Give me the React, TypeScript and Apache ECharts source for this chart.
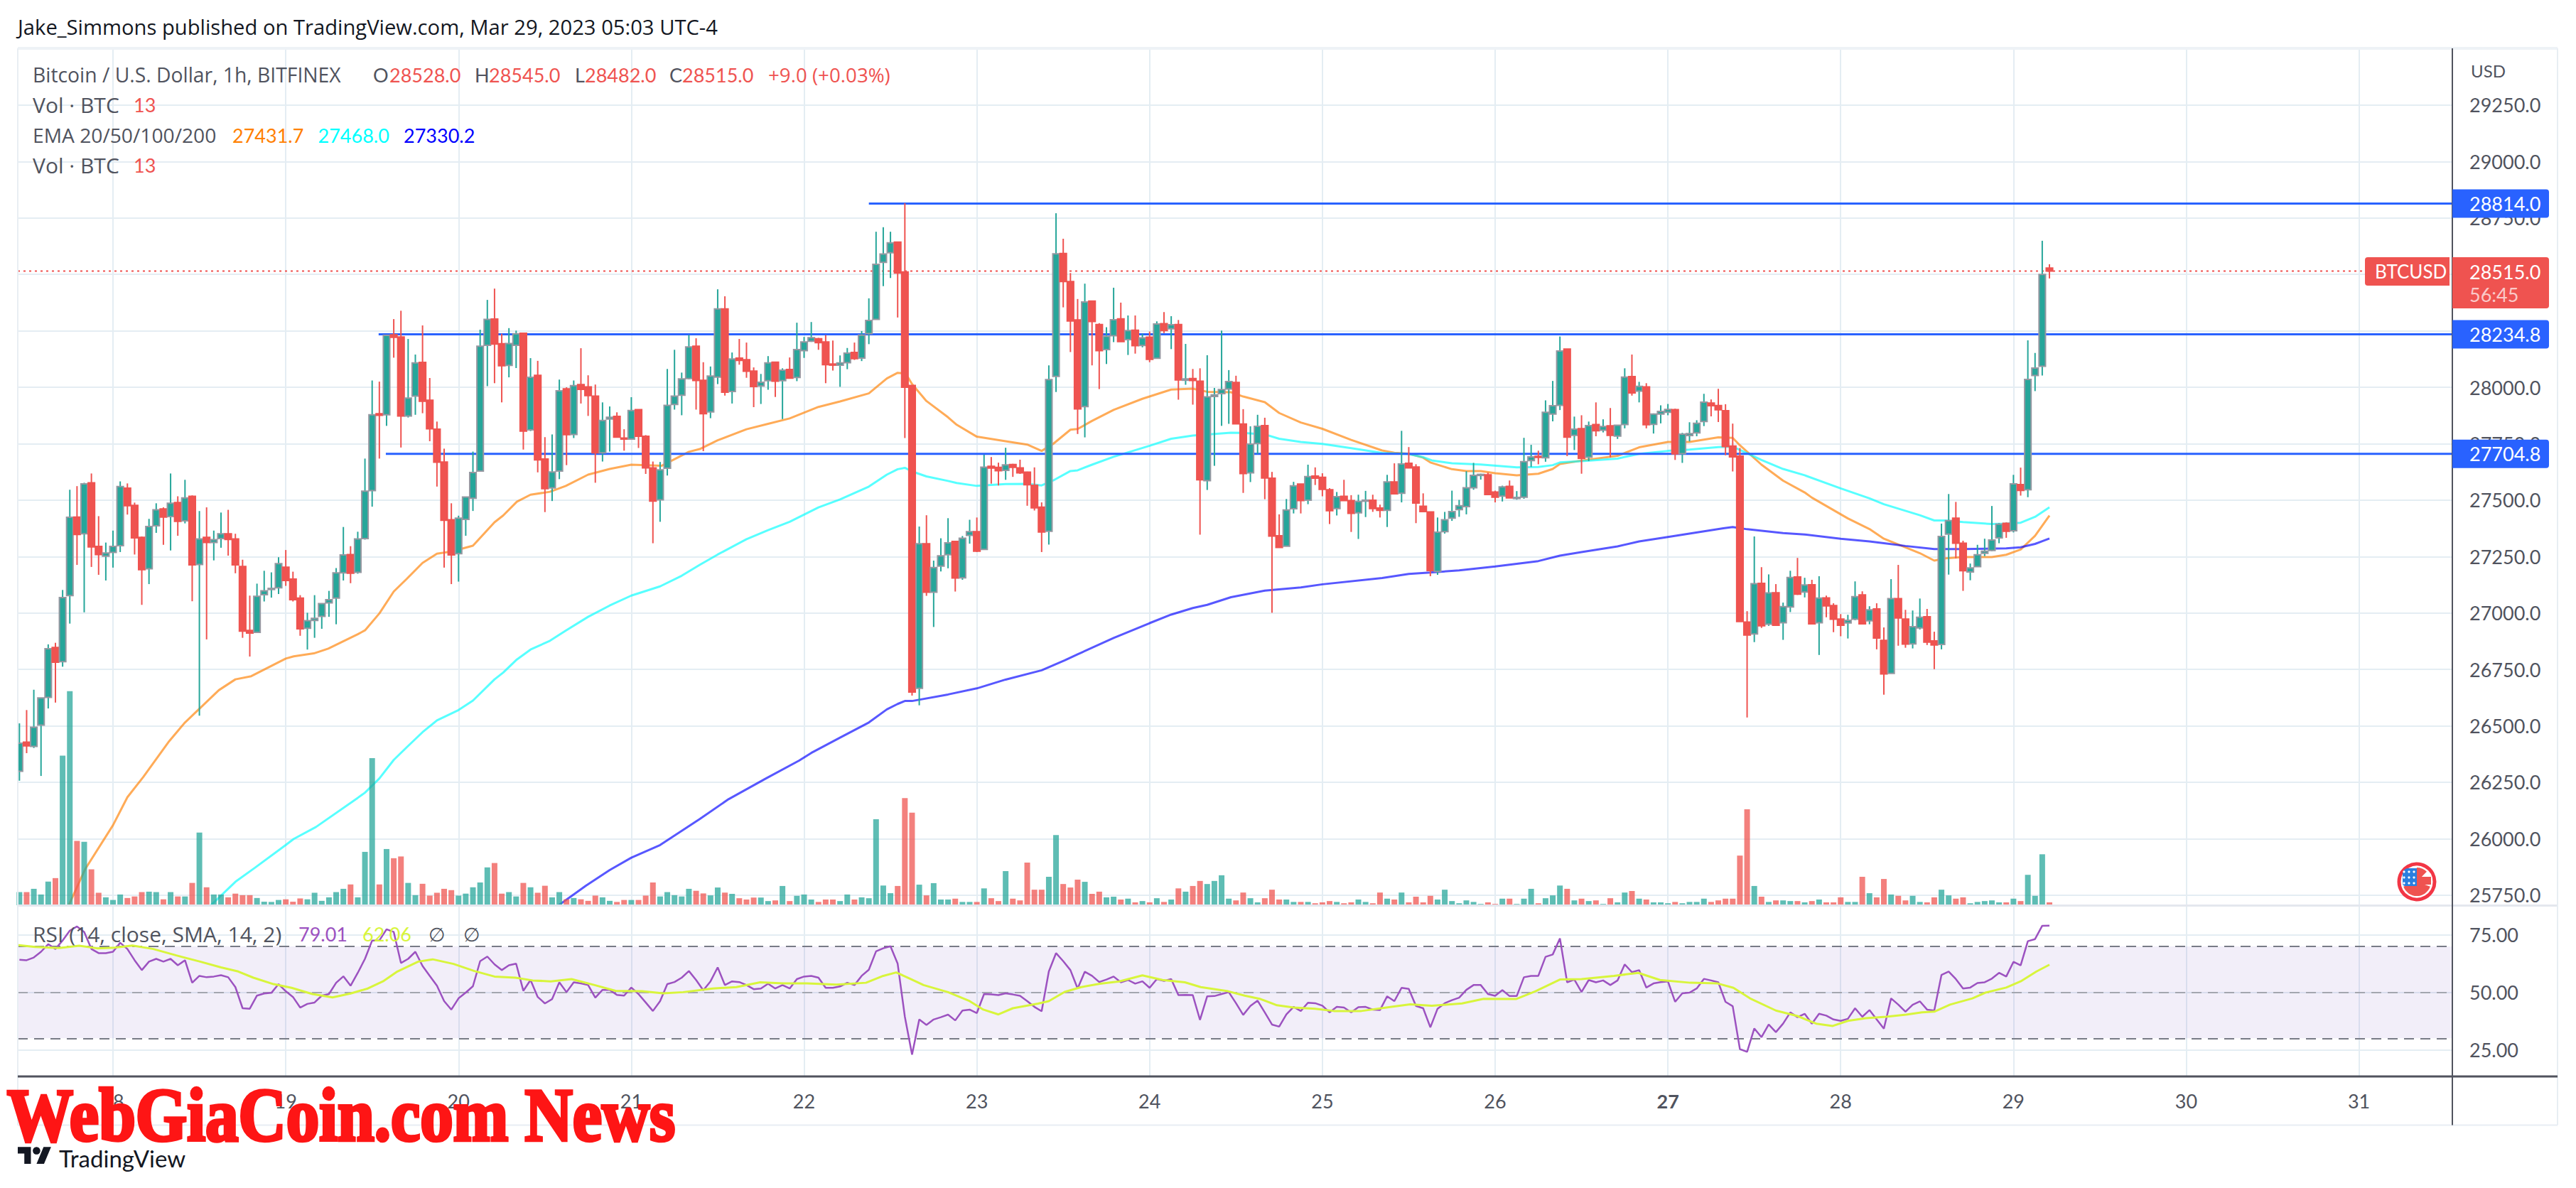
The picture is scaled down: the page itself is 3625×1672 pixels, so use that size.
import React, { useEffect, useRef } from "react";
import * as echarts from "echarts";

const FIRST_HOUR = -13;
const opens = [26299,26428,26409,26503,26626,26847,26784,27077,27425,27351,27577,27295,27252,
27268,27298,27553,27477,27335,27196,27386,27461,27427,27489,27408,27517,27215,27335,27312,27330,27351,27328,27206,26923,26914,27081,27104,27112,
27203,27150,27066,26932,26967,26985,27045,27066,27178,27259,27180,27330,27542,27883,27878,28232,28223,27873,27961,28110,27943,27814,27669,27413,
27263,27415,27508,27629,28186,28302,28193,28097,28186,28239,27811,28053,27682,27554,27629,27993,27791,28012,28002,27961,27710,27859,27871,27775,
27770,27901,27783,27643,27501,27641,27924,27965,28039,28182,28031,27891,28045,28347,27981,28129,28122,28072,28006,28029,28111,28029,28079,28043,
28162,28204,28215,28201,28103,28098,28109,28154,28129,28238,28301,28553,28596,28643,28511,28008,26666,27307,27092,27208,27258,27317,27156,27344,
27360,27282,27650,27645,27632,27658,27643,27624,27566,27469,27362,28048,28593,28468,28298,27914,28382,28278,28167,28228,28303,28211,28253,28185,
28222,28128,28282,28259,28278,28031,28039,28027,27586,27959,27972,27992,28021,27837,27621,27751,27830,27597,27342,27296,27462,27571,27500,27607,
27601,27546,27463,27517,27498,27444,27496,27500,27465,27455,27581,27530,27663,27647,27473,27448,27184,27360,27420,27458,27471,27555,27610,27612,
27536,27518,27561,27508,27513,27675,27694,27688,27881,27920,28169,27787,27817,27690,27835,27810,27829,27784,27835,28047,27983,28002,27836,27881,
27889,27901,27706,27786,27798,27848,27930,27919,27896,27740,27695,26960,26907,27131,26950,27090,26957,27027,27160,27093,27125,26957,27067,27033,
26973,26956,26972,27080,26965,27018,26879,26732,27064,26973,26863,26934,26983,26876,26861,27349,27420,27309,27182,27205,27264,27277,27333,27397,
27364,27569,27546,28052,28093,28528];
const highs = [26511,26570,26660,26624,26861,26868,27102,27546,27562,27577,27618,27429,27312,
27365,27583,27574,27489,27339,27417,27486,27468,27618,27517,27590,27521,27452,27468,27365,27445,27457,27351,27236,27077,27130,27187,27180,27247,
27279,27183,27079,27001,27079,27042,27098,27199,27381,27296,27360,27684,28030,28025,28230,28302,28339,28214,28145,28274,28041,27848,27728,27486,
27431,27514,27715,28255,28387,28437,28237,28262,28251,28239,28129,28117,27779,27791,28034,28000,28030,28173,28053,28012,27933,27915,27889,27814,
27956,27901,27788,27671,27669,28081,28166,28065,28232,28217,28111,28092,28434,28403,28154,28214,28198,28088,28059,28138,28111,28084,28132,28286,
28223,28289,28219,28231,28207,28141,28174,28198,28249,28394,28689,28709,28689,28643,28815,28008,27383,27433,27232,27331,27420,27317,27341,27413,
27423,27701,27691,27666,27732,27661,27679,27626,27645,27490,28097,28771,28658,28506,28391,28459,28382,28284,28266,28441,28375,28318,28318,28237,
28247,28292,28333,28315,28298,28192,28081,28084,28142,27997,28251,28076,28051,27903,27827,27878,27865,27625,27437,27505,27581,27571,27657,27645,
27619,27553,27536,27590,27522,27524,27541,27524,27480,27612,27663,27807,27735,27659,27530,27448,27423,27448,27542,27501,27628,27665,27617,27622,
27542,27564,27587,27540,27776,27745,27719,27942,28028,28225,28169,27870,27876,27848,27933,27858,27908,27832,28084,28145,28024,28018,27884,27920,
27926,27905,27798,27845,27854,27971,27946,27993,27925,27839,27731,27008,27339,27203,27171,27128,27046,27187,27244,27156,27147,27163,27077,27043,
26995,26992,27140,27096,27030,27043,26936,27150,27213,27014,27011,27064,27018,26917,27396,27527,27492,27320,27219,27302,27329,27474,27398,27401,
27612,27644,28208,28152,28649,28545];
const lows = [26257,26379,26402,26278,26577,26603,26762,26953,27213,27003,27204,27169,27144,
27201,27270,27436,27259,27036,27128,27355,27302,27277,27342,27397,27052,26545,26883,27233,27289,27254,27176,26890,26807,26911,27051,27068,27084,
27120,27051,26899,26838,26890,26930,26983,26950,27144,27132,27174,27325,27471,27684,27829,28131,27733,27866,27878,27885,27761,27560,27201,27128,
27139,27342,27452,27629,28005,28018,27933,28044,28085,27724,27806,27623,27447,27496,27593,27655,27775,27928,27873,27577,27671,27715,27779,27719,
27767,27731,27616,27309,27404,27609,27901,27876,28035,27901,27717,27863,28014,27963,27928,28100,28042,27912,27926,27989,27957,27859,28040,28027,
28130,28201,28166,28018,28074,28002,28080,28121,28116,28191,28301,28448,28484,28309,27775,26634,26591,27076,26938,27184,27198,27095,27147,27307,
27270,27282,27573,27565,27590,27603,27616,27475,27454,27270,27303,27979,28354,28156,27793,27778,28097,27992,28103,28200,28202,28143,28149,28177,
28111,28128,28240,28169,27945,28011,27923,27347,27545,27652,27829,27838,27838,27532,27580,27705,27504,27001,27290,27296,27441,27441,27482,27567,
27517,27394,27432,27498,27359,27328,27425,27448,27423,27381,27528,27490,27643,27398,27449,27163,27169,27352,27408,27426,27437,27546,27591,27525,
27490,27494,27510,27502,27506,27647,27659,27670,27849,27899,27695,27722,27617,27673,27783,27800,27689,27771,27818,27963,27933,27818,27795,27840,
27876,27678,27665,27760,27783,27828,27871,27846,27699,27627,26962,26537,26871,26934,26943,26946,26881,27004,27080,27069,26950,26814,26981,26915,
26897,26887,26968,26950,26950,26839,26638,26732,26855,26846,26843,26927,26858,26751,26839,27170,27242,27098,27145,27205,27252,27274,27309,27333,
27357,27520,27513,27983,28052,28482];
const closes = [26423,26411,26494,26624,26842,26782,27068,27424,27348,27572,27293,27259,27266,
27295,27560,27475,27333,27192,27383,27457,27425,27486,27406,27510,27213,27328,27312,27325,27351,27326,27213,26920,26911,27074,27098,27109,27219,
27144,27059,26930,26966,26976,27042,27059,27178,27257,27176,27328,27540,27878,27876,28230,28221,27873,27952,28108,27938,27816,27668,27411,27257,
27420,27514,27622,28182,28301,28191,28095,28194,28237,27806,28044,27678,27551,27625,27984,27790,28007,27991,27963,27710,27853,27867,27779,27772,
27897,27783,27643,27496,27634,27920,27961,28037,28179,28030,27883,28050,28347,27978,28125,28119,28071,28003,28022,28108,28027,28076,28040,28167,
28201,28220,28198,28100,28098,28108,28151,28127,28231,28296,28545,28590,28640,28506,28000,26650,27307,27092,27201,27253,27311,27155,27331,27360,
27274,27646,27642,27630,27656,27645,27621,27568,27466,27359,28034,28591,28468,28294,27904,28378,28291,28162,28226,28299,28202,28251,28184,28219,
28124,28280,28251,28277,28032,28037,28030,27590,27958,27966,27990,28025,27838,27618,27748,27827,27598,27341,27290,27456,27563,27498,27604,27597,
27548,27453,27515,27498,27441,27494,27500,27463,27455,27581,27528,27660,27643,27487,27449,27188,27358,27413,27449,27475,27555,27610,27614,27525,
27513,27559,27510,27512,27670,27692,27692,27889,27918,28161,27779,27814,27685,27830,27807,27826,27787,27832,28045,27975,28004,27834,27881,27893,
27902,27705,27792,27795,27840,27934,27918,27900,27737,27692,26962,26902,27130,26943,27089,26946,27028,27157,27083,27124,26952,27066,27031,26972,
26946,26968,27072,26952,27014,26889,26730,27064,26978,26862,26939,26981,26871,26858,27339,27409,27309,27187,27200,27258,27274,27323,27393,27362,
27572,27543,28035,28085,28500,28515];
const volumes = [60,60,75,49,108,124,684,979,294,290,164,57,36,
24,49,33,40,60,62,60,27,60,40,40,102,332,82,49,49,36,53,46,46,33,16,15,24,
27,16,31,27,57,20,36,60,75,95,36,244,673,95,257,215,223,102,46,98,44,57,75,69,
44,53,82,104,173,193,53,60,40,102,82,57,89,36,60,27,33,27,20,44,36,20,15,24,
24,24,44,104,40,60,46,40,75,66,54,45,81,58,52,32,26,35,35,19,22,88,19,43,
49,26,15,26,26,19,49,26,36,32,393,90,55,88,490,423,94,45,101,26,26,30,15,15,
15,77,32,19,156,30,22,195,71,71,130,321,97,81,117,107,52,62,36,39,26,30,13,19,
13,32,15,26,77,62,88,111,97,111,137,30,22,58,32,13,32,71,26,26,15,15,15,9,
13,19,15,9,13,26,15,9,58,30,26,58,13,39,13,43,26,71,19,9,22,15,6,13,
6,30,30,6,30,75,9,32,45,90,75,22,30,19,22,6,32,13,58,65,30,26,13,13,
9,15,9,15,15,30,15,22,30,30,227,439,88,39,15,22,22,19,19,13,19,26,13,13,
36,15,15,130,55,36,120,49,43,22,43,15,13,36,71,45,30,36,9,15,19,22,13,13,
30,19,139,43,233,13];
const rsiValues = [64.2,64.0,65.2,67.7,71.0,68.9,72.6,76.9,78.7,76.3,68.9,67.1,67.1,
67.7,71.6,68.9,64.0,59.7,63.4,64.6,63.4,64.6,61.8,64.0,54.2,57.2,56.6,56.9,57.5,56.6,52.3,43.1,42.9,48.6,49.5,49.8,53.6,
50.5,48.0,43.4,45.0,45.6,48.6,49.3,54.2,57.0,52.9,58.5,64.6,72.6,72.6,77.5,76.3,62.8,64.6,67.7,61.5,57.2,52.9,46.2,42.5,
47.4,49.9,52.7,63.6,65.6,62.2,59.7,61.8,62.5,50.7,55.4,48.0,45.2,47.1,54.4,50.1,54.4,53.9,53.2,47.7,51.1,51.1,48.9,48.6,
52.1,49.3,45.6,41.9,46.2,53.6,54.5,56.4,59.3,55.4,50.9,54.8,60.9,53.2,54.8,54.5,53.2,51.4,51.7,53.8,51.7,53.2,51.7,55.8,
56.9,57.2,56.4,52.0,52.0,52.6,54.2,53.2,57.2,59.9,67.9,69.2,70.1,62.5,39.4,22.9,38.2,35.8,38.2,39.2,40.3,37.8,42.1,42.5,
41.0,49.3,49.1,48.8,49.6,49.1,48.5,46.2,43.7,41.8,59.1,67.1,63.6,59.7,51.7,59.0,57.2,54.5,55.6,56.9,54.4,55.4,53.8,54.8,
52.0,55.8,55.0,55.8,48.8,48.9,48.8,38.0,48.3,48.4,49.3,50.1,45.3,40.2,44.1,46.4,41.3,36.0,35.1,40.4,43.7,41.9,45.5,45.3,
44.2,41.3,43.7,43.4,41.3,43.6,43.7,42.5,42.3,48.3,46.2,52.0,51.5,44.1,43.1,34.8,42.9,45.3,46.6,47.7,51.1,53.2,53.2,49.3,
48.5,51.0,48.4,48.4,56.6,57.2,57.2,65.5,66.5,73.5,54.4,55.6,50.2,55.4,54.4,55.2,53.2,55.2,62.2,58.8,59.7,52.1,53.9,54.5,
54.8,45.9,49.6,49.9,51.7,55.9,55.2,54.4,45.9,44.0,25.3,24.1,34.3,30.5,36.0,32.7,36.4,41.3,39.2,40.7,36.4,40.7,39.9,38.2,
37.6,38.5,43.1,39.4,42.3,38.2,34.2,47.4,44.7,41.6,44.6,46.1,42.5,42.1,57.6,59.1,55.8,51.7,52.1,54.1,54.4,56.0,58.5,56.9,
63.3,61.8,72.3,73.2,79.0,79.1];

const ema20 = [[-6.15,25705],[-3.85,25866],[0,26060],[2,26184],[4.2,26273],[7.8,26432],[10,26515],[14.7,26658],[17,26706],[19.2,26720],[24,26798],[25.1,26808],[27.9,26821],[29.9,26842],[34,26906],[35,26923],[37,26998],[39,27095],[40.8,27151],[43,27222],[45,27263],[47,27272],[50,27298],[53,27402],[54.2,27432],[56.1,27493],[58,27524],[60.7,27537],[62.9,27563],[66,27613],[69,27638],[72,27657],[76.2,27652],[80,27714],[81.5,27726],[84,27765],[88,27814],[91,27838],[94,27862],[98,27913],[101,27937],[105,27973],[107.5,28039],[109,28064],[110.1,28061],[111,28014],[113,27939],[116,27867],[117.2,27834],[120,27781],[124,27761],[127,27746],[129,27718],[130.6,27749],[133,27812],[134,27815],[136,27851],[139,27900],[143,27949],[147,27990],[150,27994],[152,27980],[155.3,27978],[157,27959],[160,27934],[162,27886],[165,27844],[168,27816],[172,27767],[176.3,27720],[178,27710],[180,27706],[182,27688],[183,27667],[186,27637],[188,27629],[190,27629],[192,27619],[195,27610],[198,27617],[200,27638],[201,27660],[204,27675],[209,27696],[212,27734],[216,27758],[219,27758],[223,27778],[225,27776],[226,27743],[229,27657],[232,27586],[235,27534],[236,27511],[241,27419],[244,27372],[246,27329],[249,27291],[251,27265],[253,27232],[254.6,27242],[257,27248],[261,27248],[263,27258],[265,27281],[267,27342],[269,27431.7]];
const ema50 = [[13.6,25705],[17,25809],[19.7,25871],[24,25972],[25.1,25999],[28.2,26052],[34,26181],[35,26204],[37,26267],[39,26349],[40.8,26405],[43,26472],[45,26524],[48,26570],[50,26612],[53,26706],[54.2,26736],[56.1,26794],[58,26838],[60.7,26877],[62.9,26922],[66,26983],[69,27033],[72,27077],[76,27118],[79,27165],[81.5,27213],[84,27259],[88,27327],[91,27367],[94,27404],[98,27468],[101,27503],[105,27560],[107.5,27613],[109,27637],[110,27643],[111,27627],[113,27605],[116,27585],[117.2,27576],[120,27563],[124,27571],[127,27572],[129,27565],[130.6,27587],[133,27629],[134,27632],[136,27657],[139,27692],[144,27741],[147,27772],[150,27786],[155.3,27799],[157,27798],[160,27791],[162,27772],[165,27758],[168,27749],[172,27730],[176.3,27709],[180,27704],[182,27690],[183.2,27676],[186,27663],[190,27658],[195,27645],[198,27647],[200,27655],[201,27667],[204,27673],[209,27684],[212,27705],[216,27718],[219,27724],[223,27735],[225,27737],[227,27708],[229,27678],[232,27638],[235,27610],[240,27552],[244,27508],[246,27482],[251,27433],[253,27410],[254.6,27410],[257,27403],[261,27394],[263,27396],[265,27400],[267,27426],[269,27468]];
const ema200 = [[61.9,25705],[65.7,25792],[69,25861],[72,25916],[76,25972],[81.5,26087],[85.5,26175],[90.7,26267],[95.3,26346],[97,26380],[101,26448],[105,26515],[107.5,26573],[109,26597],[110,26610],[111,26610],[116,26639],[120,26666],[124,26705],[129,26746],[132.2,26790],[134,26817],[139,26889],[144,26955],[147,26993],[150,27022],[152,27036],[155.3,27070],[160,27099],[165,27113],[168,27127],[176.3,27155],[180,27173],[183,27179],[187,27189],[192,27206],[198,27230],[201,27254],[204,27270],[209,27295],[212,27317],[216,27337],[223.7,27375],[225,27381],[227,27371],[232,27354],[235,27348],[240,27329],[244,27317],[246,27309],[249,27297],[253,27283],[257,27283],[263,27286],[265,27291],[267,27306],[269,27330.2]];
const rsiMa = [[-13.3,70.6],[-10.8,69.8],[-7.5,69.3],[-4.7,70.3],[-2.2,69.2],[0.2,69.5],[2.7,70.4],[5.6,68.9],[8.8,66.1],[12.1,63.4],[15,60.9],[17.4,59.1],[19.5,56.4],[22.3,53.6],[24.8,52.0],[27.7,49.3],[30.5,47.8],[33,49.5],[35.4,51.7],[37.5,54.8],[39.5,59.1],[42.4,63.4],[44.4,64.4],[47.3,62.4],[50.2,59.3],[53,56.9],[55.9,56.4],[58.3,55.2],[60.8,54.8],[63.7,55.8],[66.9,53.2],[69.8,50.7],[73.5,50.5],[76.4,49.6],[79.2,50.1],[83.3,51.7],[86.6,52.3],[89.9,54.4],[93.1,53.9],[96.4,53.9],[100.5,53.4],[104.6,54.2],[107,57.2],[108.8,58.7],[110.7,56.0],[112.6,53.2],[116,50.1],[119,46.2],[120.9,42.5],[123,40.4],[125,43.1],[128.5,45.1],[130,46.2],[132.2,50.2],[134.5,52.3],[137.1,53.8],[139.8,54.8],[143,57.4],[145.8,55.4],[148.9,54.4],[151.1,52.3],[154.9,50.5],[157.2,48.6],[159.4,47.1],[161.7,44.4],[164,43.4],[167,42.9],[169.6,41.9],[173.4,41.9],[177.6,43.7],[180.2,44.8],[183.2,44.2],[187.4,45.2],[190.4,47.2],[194.9,47.1],[197.6,50.5],[201,55.6],[204,55.8],[208.5,57.2],[211.9,58.5],[214.9,55.4],[219.1,54.2],[222.9,53.9],[225.1,52.0],[227.4,47.4],[231,42.1],[234,39.7],[236.6,36.4],[238.9,35.4],[241,37.6],[243.5,38.8],[246.3,39.4],[249.1,40.3],[251.3,41.3],[253,41.6],[255.2,44.7],[258.3,47.4],[260.1,49.9],[263,52.1],[265,54.8],[267.2,59.1],[269,62.06]];

const priceTicks = [25750,26000,26250,26500,26750,27000,27250,27500,27750,28000,28250,28500,28750,29000,29250];
const rsiTicks = [25,50,75];
const rsiLevels = [70,50,30];
const dayTicks = [0,24,48,72,96,120,144,168,192,216,240,264,288,312];
const dayLabels = ["18","19","20","21","22","23","24","25","26","27","28","29","30","31"];
const levels = [{ price: 28814.0, from: 105 }, { price: 28234.8, from: 36.9 }, { price: 27704.8, from: 37.9 }];
const LAST_PRICE = 28515.0;

const GREEN = "#26a69a", RED = "#ef5350", EDGE = "#9598a1", GRID = "#e4edf3", TEXT = "#50535e", DARK = "#50535e", BLUE = "#2962ff";
const FONT = "Lato";
const LABEL_FONT = "'Open Sans'";
const L = 25, AXIS_X = 3451, FRAME_R = 3599, P_TOP = 68.5, P_BOT = 1274, R_BOT = 1515, T_BOT = 1583.5;
const X_MIN = -13.23, X_MAX = 324.97, P_MIN = 25705.4, P_MAX = 29500, R_MIN = 13.4, R_MAX = 87.96;
const VOL_MAX = 3918;

const priceY = (p: number) => P_BOT - ((p - P_MIN) / (P_MAX - P_MIN)) * (P_BOT - P_TOP);

const TV_PATH = "M14 22H7V11H0V4h14v18zM28 22h-8l7.5-18h8L28 22z";
echarts.graphic.registerShape("tvmark", (echarts.graphic as any).extendPath(TV_PATH, {}));

function text(x: number, y: number, t: string, fill: string, size = 27, extra: any = {}) {
  return { type: "text", x, y, z: 60, silent: true, style: { text: t, fill, font: `normal ${size}px ${extra.font || FONT}`, verticalAlign: "middle", align: "left", opacity: extra.opacity ?? 1 } };
}
function label(x: number, y: number, t: string, fill: string, size = 28) {
  return text(x, y, t, fill, size, { font: LABEL_FONT });
}
function rect(x: number, y: number, w: number, h: number, fill: string, r: any = 0, z = 55) {
  return { type: "rect", z, silent: true, shape: { x, y, width: w, height: h, r }, style: { fill } };
}
function line(x1: number, y1: number, x2: number, y2: number, stroke: string, w = 2, z = 40) {
  return { type: "line", z, silent: true, shape: { x1, y1, x2, y2 }, style: { stroke, lineWidth: w } };
}

function flag(cx: number, cy: number) {
  const stars: any[] = [];
  for (let i = 0; i < 3; i++) for (let j = 0; j < 3; j++)
    stars.push({ type: "circle", z: 58, silent: true, shape: { cx: cx - 18 + j * 7, cy: cy - 14 + i * 8, r: 1.6 }, style: { fill: "#fff" } });
  return [
    { type: "circle", z: 56, silent: true, shape: { cx, cy, r: 25 }, style: { fill: "#fff", stroke: "#f23645", lineWidth: 5 } },
    { type: "sector", z: 57, silent: true, shape: { cx, cy, r: 20, r0: 0, startAngle: 0.35, endAngle: Math.PI - 0.35 }, style: { fill: RED } },
    rect(cx, cy - 7, 20, 11, RED, 0, 57),
    { type: "sector", z: 57, silent: true, shape: { cx, cy, r: 20, r0: 0, startAngle: -Math.PI / 2, endAngle: -0.8 }, style: { fill: RED } },
    rect(cx - 20, cy - 19, 20, 25, "#2b7fe0", [8, 0, 0, 4], 57),
    ...stars,
  ];
}

function buildOption() {
  const hours = opens.map((_, i) => FIRST_HOUR + i);
  const candleData = hours.map((h, i) => [h, opens[i], highs[i], lows[i], closes[i]]);
  const volData = hours.map((h, i) => ({
    value: [h, volumes[i]],
    itemStyle: { color: closes[i] >= opens[i] ? "rgba(38,166,154,0.74)" : "rgba(239,83,80,0.74)" },
  }));
  const rsiData = hours.map((h, i) => [h, rsiValues[i]]);
  const lineBase = { type: "line", showSymbol: false, symbol: "none", silent: true, animation: false };

  const series: any[] = [
    { ...lineBase, name: "EMA 20", data: ema20, z: 2, lineStyle: { color: "rgba(255,128,0,0.66)", width: 3 } },
    { ...lineBase, name: "EMA 50", data: ema50, z: 2, lineStyle: { color: "rgba(0,255,255,0.66)", width: 3 } },
    { ...lineBase, name: "EMA 200", data: ema200, z: 2, lineStyle: { color: "rgba(0,0,255,0.66)", width: 3 } },
    ...levels.map((lv) => ({ ...lineBase, name: `Level ${lv.price}`, data: [[lv.from, lv.price], [X_MAX, lv.price]], z: 3, lineStyle: { color: BLUE, width: 3 } })),
    { ...lineBase, name: "Last", data: [[X_MIN, LAST_PRICE], [312.8, LAST_PRICE]], z: 3, lineStyle: { color: RED, width: 2, type: [3, 5] } },
    {
      type: "bar", name: "Vol", xAxisIndex: 0, yAxisIndex: 1, data: volData, barWidth: 8, z: 4, silent: true,
    },
    {
      type: "custom", name: "BTCUSD", xAxisIndex: 0, yAxisIndex: 0, z: 5, silent: true, clip: true,
      encode: { x: 0, y: [1, 2, 3, 4] }, data: candleData,
      renderItem: (_: any, api: any) => {
        const h = api.value(0), o = api.value(1), hi = api.value(2), lo = api.value(3), c = api.value(4);
        const up = c >= o;
        const col = up ? GREEN : RED;
        const top = api.coord([h, Math.max(o, c)]), bot = api.coord([h, Math.min(o, c)]);
        const pHi = api.coord([h, hi]), pLo = api.coord([h, lo]);
        const bw = api.size([1, 0])[0] * 0.9;
        return {
          type: "group",
          children: [
            { type: "line", shape: { x1: top[0], y1: pHi[1], x2: top[0], y2: pLo[1] }, style: { stroke: col, lineWidth: 2 } },
            { type: "rect", shape: { x: top[0] - bw / 2, y: top[1], width: bw, height: Math.max(bot[1] - top[1], 1.5) }, style: { fill: col, stroke: up ? EDGE : col, lineWidth: 2 } },
          ],
        };
      },
    },
    {
      ...lineBase, name: "RSI", xAxisIndex: 1, yAxisIndex: 2, data: rsiData, z: 5, lineStyle: { color: "#9c52c0", width: 2.5 },
      markArea: { silent: true, itemStyle: { color: "rgba(126,87,194,0.1)" }, data: [[{ yAxis: 70 }, { yAxis: 30 }]] },
      markLine: {
        silent: true, symbol: "none", label: { show: false }, z: 3,
        data: rsiLevels.map((v) => ({ yAxis: v, lineStyle: { color: v === 50 ? "#a3a6af" : "#787b86", width: 2, type: [14, 9] } })),
      },
    },
    { ...lineBase, name: "RSI MA", xAxisIndex: 1, yAxisIndex: 2, data: rsiMa, z: 6, lineStyle: { color: "#d8f53c", width: 3 } },
  ];

  const xBase = (idx: number) => ({
    type: "value", gridIndex: idx, min: X_MIN, max: X_MAX,
    axisTick: { show: false, customValues: dayTicks },
    splitLine: { show: true, lineStyle: { color: GRID, width: 2 } },
  });
  const yLabelBase = { color: TEXT, fontFamily: FONT, fontSize: 27, margin: 24, align: "left" as const };

  const graphics: any[] = [
    rect(L, 66, FRAME_R - L, 4, "#eef2f6", 0, 30),
    rect(L, P_BOT - 1, FRAME_R - L, 3, "#e4e7ee", 0, 30),
    line(L, 68, L, T_BOT, "#e8eef3", 2, 30),
    line(FRAME_R, 68, FRAME_R, T_BOT, "#e8eef3", 2, 30),
    line(L, T_BOT, FRAME_R, T_BOT, "#e8edf3", 2, 30),
    line(L, R_BOT, FRAME_R, R_BOT, DARK, 3, 40),
    line(AXIS_X, 68, AXIS_X, T_BOT, DARK, 2, 40),
    label(25, 38, "Jake_Simmons published on TradingView.com, Mar 29, 2023 05:03 UTC-4", "#131722", 29.2),
    label(46, 105, "Bitcoin / U.S. Dollar, 1h, BITFINEX", TEXT, 28.3),
    text(525, 105, "O", TEXT), text(548, 105, "28528.0", RED),
    text(668, 105, "H", TEXT), text(688, 105, "28545.0", RED),
    text(809, 105, "L", TEXT), text(823, 105, "28482.0", RED),
    text(942, 105, "C", TEXT), text(960, 105, "28515.0", RED),
    label(1081, 105, "+9.0 (+0.03%)", RED, 27.7),
    label(46, 147, "Vol · BTC", TEXT, 30), text(188, 147, "13", RED),
    label(46, 190, "EMA 20/50/100/200", TEXT, 28.2),
    text(327, 190, "27431.7", "#ff8000"), text(447.5, 190, "27468.0", "#00ffff"), text(568, 190, "27330.2", "#0000ff"),
    label(46, 232, "Vol · BTC", TEXT, 30), text(188, 232, "13", RED),
    label(46, 1314, "RSI (14, close, SMA, 14, 2)", TEXT, 30),
    text(420, 1314, "79.01", "#9c52c0"), text(510, 1314, "62.06", "#d8f53c"),
    text(603, 1314, "∅", TEXT), text(652, 1314, "∅", TEXT),
    text(3477, 99, "USD", TEXT, 24),
    ...levels.flatMap((lv) => {
      const y = priceY(lv.price);
      return [rect(AXIS_X, y - 20, 136, 40, BLUE, [0, 4, 4, 0]), text(3475, y, lv.price.toFixed(1), "#ffffff")];
    }),
    rect(3328, 362, 119, 40, RED, [4, 0, 0, 4]),
    text(3342, 382, "BTCUSD", "#ffffff", 26),
    rect(AXIS_X, 362, 136, 72, RED, [0, 4, 4, 0]),
    text(3475, 382, LAST_PRICE.toFixed(1), "#ffffff"),
    text(3475, 414, "56:45", "#ffffff", 27, { opacity: 0.7 }),
    ...flag(3401, 1241),
    {
      type: "text", x: 10, y: 1569, z: 90, scaleY: 1.14, silent: true,
      style: { text: "WebGiaCoin.com News", fill: "#fe1515", stroke: "#fe1515", lineWidth: 4, font: "bold 93px 'Liberation Serif'", verticalAlign: "middle" },
    },
    { type: "tvmark", x: 25, y: 1609, scaleX: 1.32, scaleY: 1.32, z: 60, silent: true, style: { fill: "#131722" } },
    { type: "circle", z: 60, silent: true, shape: { cx: 25 + 20 * 1.32, cy: 1609 + 8 * 1.32, r: 4 * 1.32 }, style: { fill: "#131722" } },
    text(83, 1630, "TradingView", "#131722", 33),
  ];

  return {
    animation: false,
    backgroundColor: "#ffffff",
    grid: [
      { left: L, top: P_TOP, width: AXIS_X - L, height: P_BOT - P_TOP, containLabel: false },
      { left: L, top: P_BOT, width: AXIS_X - L, height: R_BOT - P_BOT, containLabel: false },
    ],
    xAxis: [
      { ...xBase(0), axisLine: { show: false }, axisLabel: { show: false } },
      {
        ...xBase(1), axisLine: { show: false },
        axisLabel: {
          customValues: dayTicks, margin: 21, color: TEXT, fontFamily: FONT, fontSize: 27, hideOverlap: false,
          formatter: (v: number) => { const s = dayLabels[dayTicks.indexOf(v)]; return s === "27" ? `{b|${s}}` : s; },
          rich: { b: { fontWeight: "bold", color: TEXT, fontFamily: FONT, fontSize: 27 } },
        },
      },
    ],
    yAxis: [
      {
        type: "value", gridIndex: 0, position: "right", min: P_MIN, max: P_MAX, scale: true,
        axisLine: { show: false }, axisTick: { show: false, customValues: priceTicks },
        axisLabel: { ...yLabelBase, customValues: priceTicks, formatter: (v: number) => v.toFixed(1) },
        splitLine: { show: true, lineStyle: { color: GRID, width: 2 } },
      },
      { type: "value", gridIndex: 0, min: 0, max: VOL_MAX, show: false, splitLine: { show: false } },
      {
        type: "value", gridIndex: 1, position: "right", min: R_MIN, max: R_MAX,
        axisLine: { show: false }, axisTick: { show: false, customValues: rsiTicks },
        axisLabel: { ...yLabelBase, customValues: rsiTicks, formatter: (v: number) => v.toFixed(2) },
        splitLine: { show: true, lineStyle: { color: GRID, width: 2 } },
      },
    ],
    series,
    graphic: { elements: graphics },
  };
}

export default function App() {
  const ref = useRef<HTMLDivElement>(null);
  useEffect(() => {
    document.body.style.margin = "0";
    const chart = echarts.init(ref.current!, null, { renderer: "svg", width: 3625, height: 1672 });
    chart.setOption(buildOption() as any);
    return () => chart.dispose();
  }, []);
  return <div ref={ref} style={{ width: 3625, height: 1672, background: "#fff" }} />;
}
